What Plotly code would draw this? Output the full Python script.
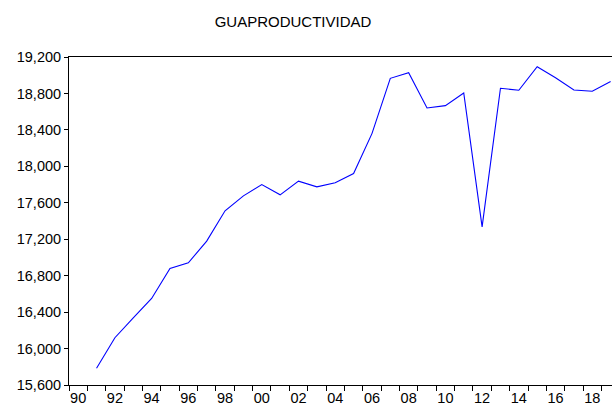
import plotly.graph_objects as go

years = list(range(1991, 2020))
values = [15783, 16119, 16338, 16550, 16879, 16941, 17179, 17512, 17676, 17800,
          17687, 17837, 17775, 17819, 17921, 18359, 18966, 19028, 18641, 18666,
          18805, 17336, 18857, 18835, 19094, 18973, 18838, 18824, 18930]
label_years = list(range(1990, 2019, 2))
tick_labels = [f"{y % 100:02d}" for y in label_years]
y_ticks = list(range(15600, 19201, 400))

fig = go.Figure()
fig.add_trace(go.Scatter(x=years, y=values, mode="lines",
                         line=dict(color="#0000FF", width=1.1), showlegend=False))

fig.update_layout(
    width=612, height=409,
    margin=dict(l=69, r=0, t=57, b=24),
    paper_bgcolor="white", plot_bgcolor="white",
    font=dict(family="Liberation Sans, Arial, sans-serif", size=14.5, color="black"),
    title=dict(text="GUAPRODUCTIVIDAD", x=293 / 612, xanchor="center", y=1 - 22 / 409,
               yanchor="middle", font=dict(size=15, color="black")),
)
fig.update_xaxes(
    range=[1989.5, 2019.075], showgrid=False, zeroline=False,
    showline=True, linecolor="black", linewidth=1, mirror=True,
    tickmode="array", tickvals=label_years, ticktext=tick_labels,
    ticks="", ticklen=0,
    minor=dict(tickmode="linear", tick0=1989.5, dtick=1, ticks="outside",
               ticklen=5, tickcolor="black", tickwidth=1, showgrid=False),
)
fig.update_yaxes(
    range=[15600, 19200], showgrid=False, zeroline=False,
    showline=True, linecolor="black", linewidth=1,
    tickmode="array", tickvals=y_ticks, tickformat=",d",
    ticks="outside", ticklen=4, tickcolor="black",
)
fig.write_html("out.html", config={"displayModeBar": False},
               post_script="document.body.style.margin='0';")
